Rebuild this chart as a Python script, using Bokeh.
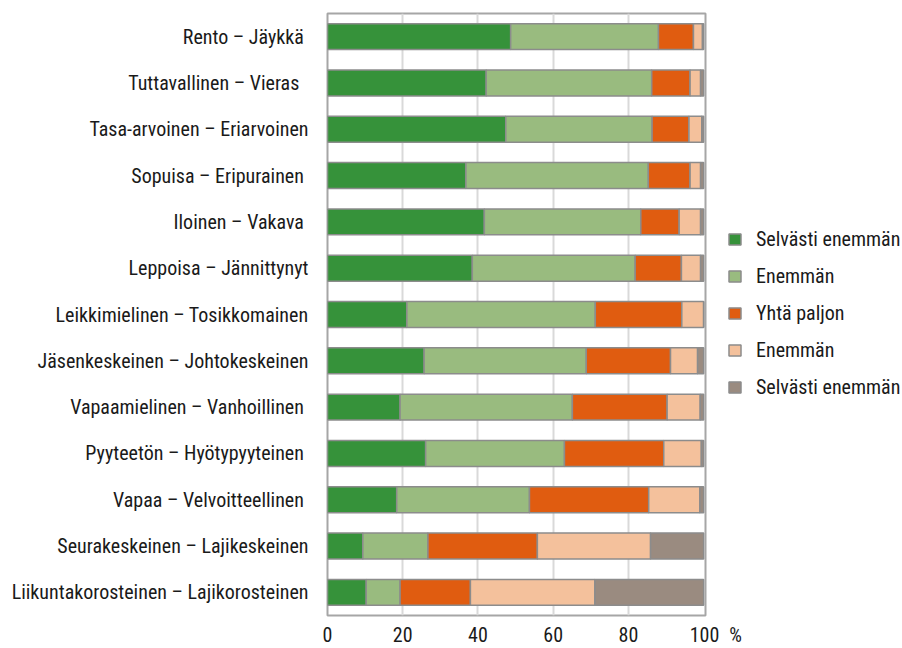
from bokeh.plotting import figure
from bokeh.models import FactorRange, Range1d, Legend, LegendItem, FixedTicker
from bokeh.embed import file_html
from bokeh.resources import INLINE

categories = [
    "Rento  – Jäykkä",
    "Tuttavallinen  – Vieras ",
    "Tasa-arvoinen – Eriarvoinen",
    "Sopuisa  – Eripurainen",
    "Iloinen  – Vakava",
    "Leppoisa – Jännittynyt",
    "Leikkimielinen – Tosikkomainen",
    "Jäsenkeskeinen – Johtokeskeinen",
    "Vapaamielinen  – Vanhoillinen",
    "Pyyteetön  – Hyötypyyteinen",
    "Vapaa – Velvoitteellinen ",
    "Seurakeskeinen – Lajikeskeinen",
    "Liikuntakorosteinen – Lajikorosteinen",
]

selvasti_enemman_a = [48.7, 42.2, 47.4, 36.8, 41.7, 38.5, 21.1, 25.7, 19.3, 26.1, 18.4, 9.4, 10.3]
enemman_a = [39.3, 44.0, 38.9, 48.5, 41.6, 43.3, 50.1, 43.1, 45.8, 36.9, 35.3, 17.3, 9.0]
yhta_paljon = [9.3, 10.2, 9.8, 11.1, 10.2, 12.3, 23.0, 22.4, 25.2, 26.4, 31.7, 29.1, 18.7]
enemman_b = [2.4, 2.8, 3.4, 2.8, 5.7, 5.1, 5.8, 7.2, 8.8, 10.0, 13.6, 30.1, 33.1]
selvasti_enemman_b = [0.3, 0.8, 0.5, 0.8, 0.8, 0.8, 0.0, 1.6, 0.9, 0.6, 1.0, 14.1, 28.9]

series_labels = ["Selvästi enemmän", "Enemmän", "Yhtä paljon", "Enemmän", "Selvästi enemmän"]
x_ticks = [0, 20, 40, 60, 80, 100]
x_tick_labels = {100: "\u2007\u2007\u00a0100\u2007%"}

colors = ["#36923a", "#99bb7f", "#e05c10", "#f4c19c", "#9a8b80"]
FONT = "Roboto Condensed"
TXT = "#1a1a1a"

keys = ["s1", "s2", "s3", "s4", "s5"]
data = dict(cat=categories, s1=selvasti_enemman_a, s2=enemman_a, s3=yhta_paljon,
            s4=enemman_b, s5=selvasti_enemman_b)

p = figure(
    y_range=FactorRange(factors=list(reversed(categories))),
    x_range=Range1d(0, 100.5),
    frame_width=378, frame_height=602,
    min_border_left=327, min_border_top=13, min_border_bottom=0, min_border_right=195,
    output_backend="svg", toolbar_location=None,
)

renderers = p.hbar_stack(keys, y="cat", height=0.56, source=data, color=colors,
                         line_color="#8c8c8c", line_width=1.5)

p.outline_line_color = "#a6a6a6"
p.outline_line_width = 2
p.ygrid.grid_line_color = None
p.xgrid.grid_line_color = "#d9d9d9"
p.xgrid.grid_line_width = 2
p.xgrid.ticker = FixedTicker(ticks=[20, 40, 60, 80])

p.xaxis.ticker = FixedTicker(ticks=x_ticks)
p.xaxis.major_label_overrides = x_tick_labels
p.xaxis.axis_line_color = None
p.xaxis.major_tick_line_color = None
p.xaxis.minor_tick_line_color = None
p.xaxis.major_tick_out = 0
p.xaxis.major_tick_in = 0
p.xaxis.minor_tick_out = 0
p.xaxis.major_label_text_font = FONT
p.xaxis.major_label_text_font_size = "20px"
p.xaxis.major_label_text_color = TXT
p.xaxis.major_label_standoff = 7

p.yaxis.axis_line_color = None
p.yaxis.major_tick_line_color = None
p.yaxis.minor_tick_line_color = None
p.yaxis.major_tick_out = 0
p.yaxis.minor_tick_out = 0
p.yaxis.major_label_text_font = FONT
p.yaxis.major_label_text_font_size = "20px"
p.yaxis.major_label_text_color = TXT
p.yaxis.major_label_standoff = 19

items = [LegendItem(label=lab, renderers=[r]) for lab, r in zip(series_labels, renderers)]
legend = Legend(items=items, location=(22, 216), orientation="vertical")
legend.margin = 0
legend.padding = 0
legend.border_line_color = None
legend.background_fill_alpha = 0
legend.glyph_width = 15
legend.glyph_height = 14
legend.label_height = 20
legend.spacing = 13
legend.label_standoff = 14
legend.label_text_font = FONT
legend.label_text_font_size = "20px"
legend.label_text_color = TXT
p.add_layout(legend, "right")

open("out.html", "w").write(file_html(p, INLINE))
